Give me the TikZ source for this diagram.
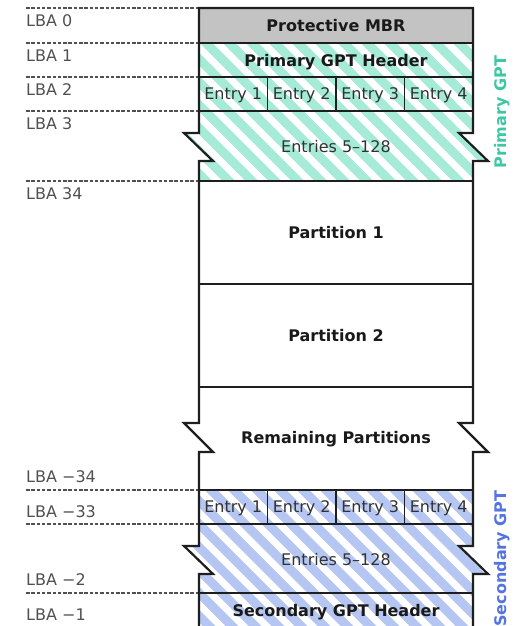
\documentclass[tikz,border=0pt]{standalone}
\usepackage{fontspec}
\setmainfont{DejaVu Sans}
\definecolor{mbrgray}{RGB}{195,195,195}
\definecolor{mintc}{RGB}{165,235,215}
\definecolor{periw}{RGB}{182,198,242}
\definecolor{primc}{RGB}{60,200,165}
\definecolor{secc}{RGB}{85,115,225}
\definecolor{lblc}{RGB}{80,80,80}
\definecolor{txtc}{RGB}{50,50,50}
\definecolor{boldc}{RGB}{25,25,25}
\definecolor{edgec}{RGB}{30,30,30}
\begin{document}
\begin{tikzpicture}[x=1pt,y=-1pt,
  outline/.style={insert path={(199,8) -- (199,133) -- (184,133) -- (213,161) -- (199,161)
     -- (199,423) -- (184,423) -- (213,452) -- (199,452)
     -- (199,546) -- (184,546) -- (213,574) -- (199,574)
     -- (199,629) -- (473,629)
     -- (473,574) -- (488,574) -- (459,546) -- (473,546)
     -- (473,452) -- (488,452) -- (459,423) -- (473,423)
     -- (473,161) -- (488,161) -- (459,133) -- (473,133)
     -- (473,8) -- cycle}},
  lbl/.style={font=\fontsize{16}{19}\selectfont, text=lblc, anchor=west, inner sep=0pt, text height=11.7pt, text depth=0pt},
  bold/.style={font=\fontsize{16}{19}\selectfont\bfseries, text=boldc, inner sep=0pt, text height=11.7pt, text depth=0pt},
  plain/.style={font=\fontsize{16}{19}\selectfont, text=txtc, inner sep=0pt, text height=11.7pt, text depth=0pt},
  side/.style={font=\fontsize{16}{19}\selectfont\bfseries, inner sep=0pt, text height=11.7pt, text depth=0pt, rotate=90},
  lbaline/.style={draw=lblc, line width=1.2pt, dash pattern=on 3.5pt off 1.8pt},
  thick edge/.style={draw=edgec, line width=2.2pt},
  thin edge/.style={draw=edgec, line width=1.1pt},
]
\useasboundingbox (0,0) rectangle (520,626);
\clip (0,0) rectangle (520,626);
% fills
\begin{scope}
  \clip[outline];
  \fill[white] (150,0) rectangle (500,640);
  \fill[mbrgray] (150,8) rectangle (500,43);
  \begin{scope}
    \clip (150,43) rectangle (500,181);
    \foreach \i in {0,...,24} \draw[mintc, line width=9pt] (-44+23*\i,0) -- ++(260,260);
  \end{scope}
  \begin{scope}
    \clip (150,490) rectangle (500,640);
    \foreach \i in {0,...,24} \draw[periw, line width=9pt] (-86+23*\i,400) -- ++(260,260);
  \end{scope}
\end{scope}
% coordinates
\foreach \n/\y in {l0/8,l1/43,l2/77,l3/111,l34/181,lm34/490,lm33/524,lm2/593} {
  \coordinate (\n a) at (26,\y);
  \coordinate (\n b) at (199,\y);
}
% dashed LBA lines
\foreach \n in {l0,l1,l2,l3,l34,lm34,lm33,lm2} \draw[lbaline] (\n a) -- (\n b);
% inner division lines
\coordinate (r1) at (473,43);
\coordinate (r2) at (473,77);
\coordinate (r3) at (473,111);
\coordinate (r34) at (473,181);
\coordinate (p1l) at (199,284); \coordinate (p1r) at (473,284);
\coordinate (p2l) at (199,387); \coordinate (p2r) at (473,387);
\coordinate (rm34) at (473,490);
\coordinate (rm33) at (473,524);
\coordinate (rm2) at (473,593);
\draw[thin edge] (l2b) -- (r2);
\draw[thin edge] (l3b) -- (r3);
\draw[thin edge] (p1l) -- (p1r);
\draw[thin edge] (p2l) -- (p2r);
\draw[thin edge] (lm33b) -- (rm33);
\draw[thin edge] (lm2b) -- (rm2);
\foreach \x in {267.5,336,404.5} {
  \draw[thin edge] (\x,77) -- (\x,111);
  \draw[thin edge] (\x,490) -- (\x,524);
}
\draw[thick edge] (l1b) -- (r1);
\draw[thick edge] (l34b) -- (r34);
\draw[thick edge] (lm34b) -- (rm34);
\draw[thick edge, line join=miter][outline];
% LBA labels
\node[lbl] (t0) at (26,21) {LBA 0};
\node[lbl] (t1) at (26,56) {LBA 1};
\node[lbl] (t2) at (26,90) {LBA 2};
\node[lbl] (t3) at (26,124) {LBA 3};
\node[lbl] (t34) at (26,194) {LBA 34};
\node[lbl] (tm34) at (26,477) {LBA −34};
\node[lbl] (tm33) at (26,511.5) {LBA −33};
\node[lbl] (tm2) at (26,580) {LBA −2};
\node[lbl] (tm1) at (26,615) {LBA −1};
% box texts
\node[bold] (mbr) at (336,26) {Protective MBR};
\node[bold] (phdr) at (336,60.5) {Primary GPT Header};
\node[plain] (pe1) at (233.25,94) {Entry 1};
\node[plain] (pe2) at (301.75,94) {Entry 2};
\node[plain] (pe3) at (370.25,94) {Entry 3};
\node[plain] (pe4) at (438.75,94) {Entry 4};
\node[plain] (pes) at (336,146.5) {Entries 5–128};
\node[bold] (part1) at (336,233) {Partition 1};
\node[bold] (part2) at (336,336) {Partition 2};
\node[bold] (rem) at (336,437.5) {Remaining Partitions};
\node[plain] (se1) at (233.25,507) {Entry 1};
\node[plain] (se2) at (301.75,507) {Entry 2};
\node[plain] (se3) at (370.25,507) {Entry 3};
\node[plain] (se4) at (438.75,507) {Entry 4};
\node[plain] (ses) at (336,560) {Entries 5–128};
\node[bold] (shdr) at (336,610.5) {Secondary GPT Header};
% side labels
\node[side, text=primc] (pgpt) at (501,112) {Primary GPT};
\node[side, text=secc] (sgpt) at (501,558.5) {Secondary GPT};
\end{tikzpicture}
\end{document}
